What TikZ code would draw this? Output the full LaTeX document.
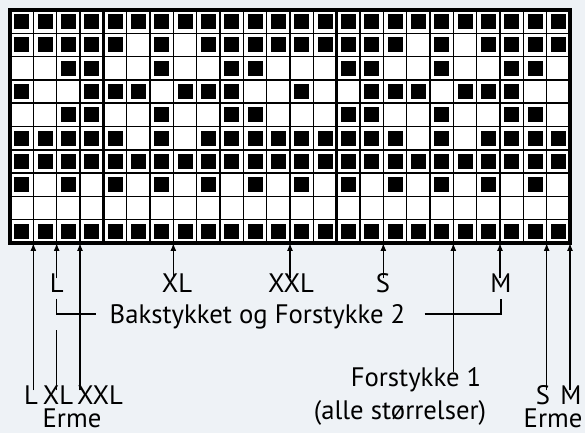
\documentclass[tikz,border=0pt]{standalone}
\usepackage{fontspec}
\setmainfont{PT Sans}
\usepackage{tikz}
\usetikzlibrary{arrows.meta}
\definecolor{bgblue}{RGB}{238,242,246}

\begin{document}
\begin{tikzpicture}[x=0.5bp,y=-0.5bp,
    lbl/.style={inner xsep=3bp,inner ysep=0.5bp,font=\fontsize{13.4}{16}\selectfont,text height=9.3bp,text depth=0pt},
    ptr/.style={line width=0.65bp,shorten <=-3bp,-{Latex[length=4bp,width=3bp]}},
    bline/.style={line width=0.65bp},
    gridl/.style={line width=0.75bp},
    sepl/.style={line width=1.6bp}]
  \def\cw{23.333}
  \def\ch{23.3}
  % background
  \useasboundingbox[fill=bgblue] (0,0) rectangle (585,433);
  \fill[white] (10,10) rectangle (570,243);
  % stitches
  \foreach \r/\cols in {1/{1,...,24},
      2/{1,2,3,4,5,7,9,10,11,12,13,14,15,16,17,19,21,22,23,24},
      3/{3,4,7,10,11,15,16,19,22,23},
      4/{1,4,5,6,8,9,10,13,16,17,18,20,21,22},
      5/{3,4,7,10,11,15,16,19,22,23},
      6/{1,2,3,4,5,7,9,10,11,12,13,14,15,16,17,19,21,22,23,24},
      7/{1,...,24},
      8/{1,3,...,23},
      10/{1,...,24}}
    \foreach \c in \cols
      \fill ({10+(\c-1)*\cw+4.17},{10+(\r-1)*\ch+4.15}) rectangle ++(15,15);
  % grid
  \foreach \i in {1,...,23}
    \draw[gridl] ({10+\i*\cw},10) -- ++(0,233);
  \foreach \j in {1,...,9}
    \draw[gridl] (10,{10+\j*\ch}) -- ++(560,0);
  \draw[sepl] ({10+4*\cw},10) -- ++(0,233);
  \draw[sepl] ({10+14*\cw},10) -- ++(0,233);
  \draw[line width=2bp] (10,10) rectangle (570,243);
  % bottom edge points
  \foreach \i in {0,...,24}
    \coordinate (b\i) at ({10+\i*\cw},243);

  % Bakstykket og Forstykke 2
  \node[lbl] (bakL) at (56.7,283) {L};
  \node[lbl] (bakXL) at (177,283) {XL};
  \node[lbl] (bakXXL) at (291,283) {XXL};
  \node[lbl] (bakS) at (383,283) {S};
  \node[lbl] (bakM) at (501,283) {M};
  \draw[ptr] (b2 |- bakL.north) -- (b2);
  \draw[ptr] (b7 |- bakXL.north) -- (b7);
  \draw[ptr] (b12 |- bakXXL.north) -- (b12);
  \draw[ptr] (b16 |- bakS.north) -- (b16);
  \draw[ptr] (b21 |- bakM.north) -- (b21);
  \node[lbl] (bak) at (257.5,314) {Bakstykket og Forstykke 2};
  \draw[bline] ([yshift=-2.5bp]bakL.south) |- ([xshift=-3.5bp]bak.west);
  \draw[bline] ([xshift=6.5bp]bak.east) -| ([yshift=-2.5bp]bakM.south);

  % Erme, L XL XXL
  \node[lbl] (ermeL) at (31,395) {L};
  \node[lbl] (ermeXL) at (58,395) {XL};
  \node[lbl] (ermeXXL) at (100,395) {XXL};
  \node[lbl] (ermeA) at (72,418) {Erme};
  \draw[ptr] (b1 |- ermeL.north) -- (b1);
  \draw[bline,shorten <=-3bp] (b2 |- ermeXL.north) -- ++(0,-54);
  \draw[ptr] (b3 |- ermeXXL.north) -- (b3);

  % Forstykke 1
  \node[lbl] (fs) at (416,377) {Forstykke 1};
  \node[lbl] (fsall) at (400,410) {(alle størrelser)};
  \draw[ptr] (b19 |- fs.north) -- (b19);

  % Erme, S M
  \node[lbl] (ermeS) at (543,395) {S};
  \node[lbl] (ermeM) at (571,395) {M};
  \node[lbl] (ermeB) at (553,418) {Erme};
  \draw[ptr] (b23 |- ermeS.north) -- (b23);
  \draw[ptr] (b24 |- ermeM.north) -- (b24);
\end{tikzpicture}
\end{document}
